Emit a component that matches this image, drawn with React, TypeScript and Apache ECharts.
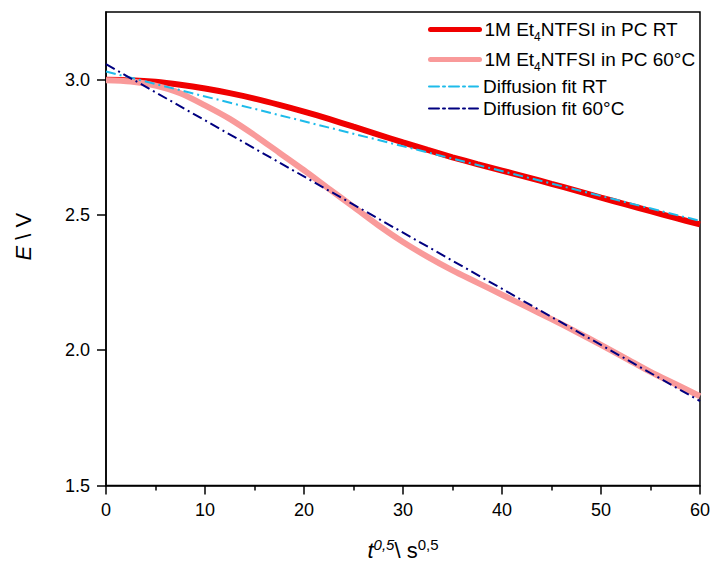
import React, { useEffect, useRef } from "react";
import * as echarts from "echarts";

const tValues = [0, 2.5, 5, 7.5, 10, 12.5, 15, 17.5, 20, 22.5, 25, 27.5, 30, 32.5, 35, 37.5, 40, 42.5, 45, 47.5, 50, 52.5, 55, 57.5, 60];
const eRT = [3.0, 2.998, 2.992, 2.981, 2.967, 2.95, 2.93, 2.907, 2.882, 2.855, 2.826, 2.797, 2.768, 2.74, 2.713, 2.688, 2.664, 2.64, 2.615, 2.59, 2.564, 2.539, 2.514, 2.489, 2.465];
const e60 = [2.998, 2.993, 2.978, 2.95, 2.905, 2.855, 2.795, 2.73, 2.665, 2.597, 2.53, 2.462, 2.4, 2.345, 2.295, 2.25, 2.205, 2.16, 2.115, 2.068, 2.02, 1.97, 1.92, 1.875, 1.83];
const fitT = [0, 60];
const fitRT = [3.03, 2.478];
const fit60 = [3.057, 1.812];
const xTicks = [0, 10, 20, 30, 40, 50, 60];
const yTicks = [1.5, 2.0, 2.5, 3.0];
const seriesNames = [
  "1M Et4NTFSI in PC RT",
  "1M Et4NTFSI in PC 60°C",
  "Diffusion fit RT",
  "Diffusion fit 60°C",
];

const FONT = "Liberation Sans, Arial, sans-serif";

export default function App() {
  const ref = useRef<HTMLDivElement>(null);
  useEffect(() => {
    document.body.style.margin = "0";
    const chart = echarts.init(ref.current!, null, { renderer: "svg" });
    const zip = (xs: number[], ys: number[]) => xs.map((x, i) => [x, ys[i]]);
    const legendRich = {
      sub: { fontSize: 12, fontFamily: FONT, color: "#000", padding: [14, 0, 0, 0] },
    };
    const legendFormatter = (name: string) => {
      if (name.indexOf("Et4") >= 0) {
        const parts = name.split("Et4");
        return parts[0] + "Et{sub|4}" + parts[1];
      }
      return name;
    };
    const mkLegend = (name: string, top: number, width: number) => ({
      data: [name],
      left: 428,
      top,
      padding: 0,
      itemWidth: 49,
      itemHeight: 10,
      selectedMode: false,
      formatter: legendFormatter,
      textStyle: { fontSize: 19, fontFamily: FONT, color: "#000", rich: legendRich },
      itemStyle: { opacity: 0 },
      lineStyle: { width, cap: "round" },
    });
    chart.setOption({
      animation: false,
      backgroundColor: "#fff",
      textStyle: { fontFamily: FONT },
      grid: {
        left: 106,
        right: 12,
        top: 12,
        bottom: 75,
        show: true,
        borderColor: "#000",
        borderWidth: 1.5,
        backgroundColor: "transparent",
      },
      legend: [
        mkLegend(seriesNames[0], 20, 5),
        mkLegend(seriesNames[1], 50, 5),
        mkLegend(seriesNames[2], 77, 2),
        mkLegend(seriesNames[3], 99, 2),
      ],
      xAxis: {
        type: "value",
        min: 0,
        max: 60,
        interval: 10,
        name: "{it|t}{supi|0,5}{n|\\ s}{sup|0,5}",
        nameLocation: "middle",
        nameGap: 51,
        nameTextStyle: {
          fontSize: 22,
          fontFamily: FONT,
          color: "#000",
          rich: {
            it: { fontSize: 22, fontStyle: "italic", fontFamily: FONT, color: "#000" },
            n: { fontSize: 22, fontFamily: FONT, color: "#000" },
            supi: { fontSize: 15, fontStyle: "italic", fontFamily: FONT, color: "#000", padding: [0, 0, 12, 0] },
            sup: { fontSize: 15, fontFamily: FONT, color: "#000", padding: [0, 0, 12, 0] },
          },
        },
        axisLine: { onZero: false, lineStyle: { color: "#000", width: 1.5 } },
        axisTick: { show: true, inside: false, length: 9, lineStyle: { color: "#000", width: 1.5 }, customValues: xTicks },
        minorTick: { show: true, splitNumber: 2, length: 5, lineStyle: { color: "#000", width: 1.5 } },
        axisLabel: { fontSize: 18, fontFamily: FONT, color: "#000", margin: 15, customValues: xTicks },
        splitLine: { show: false },
      },
      yAxis: {
        type: "value",
        min: 1.5,
        max: 3.25,
        interval: 0.5,
        name: "{it|E}{n| \\ V}",
        nameLocation: "middle",
        nameGap: 72,
        nameTextStyle: {
          fontSize: 22,
          fontFamily: FONT,
          color: "#000",
          padding: [0, 0, 0, 24],
          rich: {
            it: { fontSize: 22, fontStyle: "italic", fontFamily: FONT, color: "#000" },
            n: { fontSize: 22, fontFamily: FONT, color: "#000" },
          },
        },
        axisLine: { onZero: false, lineStyle: { color: "#000", width: 1.5 } },
        axisTick: { show: true, inside: false, length: 9, lineStyle: { color: "#000", width: 1.5 }, customValues: yTicks },
        axisLabel: {
          fontSize: 18,
          fontFamily: FONT,
          color: "#000",
          margin: 16,
          customValues: yTicks,
          formatter: (v: number) => v.toFixed(1),
        },
        splitLine: { show: false },
      },
      series: [
        {
          name: seriesNames[0],
          type: "line",
          data: zip(tValues, eRT),
          smooth: 0.3,
          symbol: "none",
          lineStyle: { color: "#F00000", width: 6 },
          itemStyle: { color: "#F00000" },
          z: 2,
        },
        {
          name: seriesNames[1],
          type: "line",
          data: zip(tValues, e60),
          smooth: 0.3,
          symbol: "none",
          lineStyle: { color: "#F99A9A", width: 6 },
          itemStyle: { color: "#F99A9A" },
          z: 3,
        },
        {
          name: seriesNames[2],
          type: "line",
          data: zip(fitT, fitRT),
          symbol: "none",
          lineStyle: { color: "#1EBBEA", width: 2, type: [10, 4, 2, 4] },
          itemStyle: { color: "#1EBBEA" },
          z: 4,
        },
        {
          name: seriesNames[3],
          type: "line",
          data: zip(fitT, fit60),
          symbol: "none",
          lineStyle: { color: "#000080", width: 2, type: [10, 4, 2, 4] },
          itemStyle: { color: "#000080" },
          z: 5,
        },
      ],
    });
    return () => chart.dispose();
  }, []);
  return <div ref={ref} style={{ width: 713, height: 566 }} />;
}
